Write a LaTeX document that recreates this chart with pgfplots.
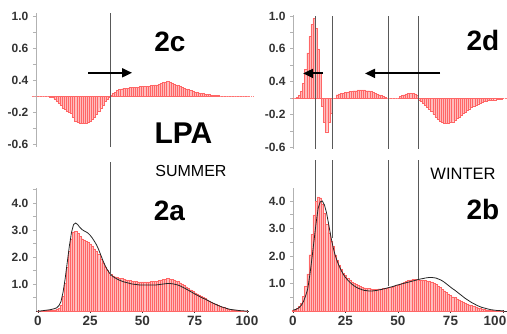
\documentclass[border=0pt]{standalone}
\usepackage{pgfplots}
\pgfplotsset{compat=1.18}
\usepackage{pgfplotstable}
\usepackage{fontspec}
\setmainfont{Liberation Sans}
\usetikzlibrary{arrows.meta}

\pgfplotstableread{
x c h d
0 0 0 0
1 0 0 0
2 0.01 0.01 0
3 0.02 0.02 0
4 0.03 0.03 0
5 0.04 0.04 0
6 0.05 0.04 -0.01
7 0.07 0.05 -0.02
8 0.09 0.05 -0.04
9 0.12 0.06 -0.06
10 0.20 0.11 -0.09
11 0.35 0.23 -0.12
12 0.70 0.55 -0.15
13 1.20 1.03 -0.17
14 1.80 1.61 -0.19
15 2.40 2.20 -0.20
16 2.90 2.68 -0.22
17 3.20 2.93 -0.27
18 3.26 2.95 -0.31
19 3.20 2.87 -0.33
20 3.10 2.76 -0.34
21 3.02 2.68 -0.34
22 2.97 2.63 -0.34
23 2.93 2.59 -0.34
24 2.88 2.55 -0.33
25 2.80 2.49 -0.31
26 2.70 2.41 -0.29
27 2.58 2.31 -0.27
28 2.45 2.22 -0.23
29 2.28 2.09 -0.19
30 2.08 1.93 -0.15
31 1.88 1.77 -0.11
32 1.70 1.63 -0.07
33 1.55 1.51 -0.04
34 1.43 1.41 -0.02
35 1.34 1.35 0.01
36 1.27 1.30 0.03
37 1.22 1.27 0.05
38 1.18 1.25 0.07
39 1.14 1.22 0.08
40 1.11 1.20 0.09
41 1.08 1.18 0.10
42 1.06 1.16 0.10
43 1.04 1.14 0.10
44 1.02 1.13 0.11
45 1.00 1.11 0.11
46 0.99 1.10 0.11
47 0.98 1.09 0.11
48 0.97 1.08 0.11
49 0.96 1.08 0.12
50 0.96 1.08 0.12
51 0.96 1.08 0.12
52 0.96 1.08 0.12
53 0.96 1.08 0.12
54 0.96 1.09 0.13
55 0.96 1.09 0.13
56 0.96 1.10 0.14
57 0.97 1.11 0.14
58 0.98 1.13 0.15
59 0.99 1.15 0.16
60 1.00 1.17 0.17
61 1.01 1.18 0.17
62 1.02 1.20 0.18
63 1.02 1.19 0.17
64 1.01 1.17 0.16
65 1.00 1.15 0.15
66 0.98 1.12 0.14
67 0.96 1.09 0.13
68 0.93 1.05 0.12
69 0.89 1.00 0.11
70 0.85 0.95 0.10
71 0.81 0.90 0.09
72 0.77 0.85 0.08
73 0.72 0.79 0.07
74 0.68 0.74 0.06
75 0.63 0.68 0.05
76 0.59 0.64 0.05
77 0.55 0.59 0.04
78 0.51 0.54 0.03
79 0.47 0.50 0.03
80 0.44 0.46 0.02
81 0.40 0.42 0.02
82 0.36 0.38 0.02
83 0.32 0.33 0.01
84 0.28 0.29 0.01
85 0.25 0.26 0.01
86 0.21 0.22 0.01
87 0.18 0.18 0
88 0.15 0.15 0
89 0.13 0.13 0
90 0.10 0.10 0
91 0.08 0.08 0
92 0.06 0.06 0
93 0.05 0.05 0
94 0.04 0.04 0
95 0.03 0.03 0
96 0.02 0.02 0
97 0.01 0.01 0
98 0.01 0.01 0
99 0 0 0
100 0 0 0
}\summer

\pgfplotstableread{
x c h d
0 0.03 0.03 0
1 0.05 0.05 0
2 0.08 0.09 0.01
3 0.13 0.16 0.03
4 0.21 0.29 0.08
5 0.35 0.53 0.18
6 0.55 0.90 0.35
7 0.80 1.35 0.55
8 1.30 2.05 0.75
9 1.90 2.80 0.90
10 2.55 3.50 0.97
11 3.20 4.00 0.85
12 3.75 4.15 0.60
13 3.97 4.12 0.30
14 4.00 3.90 -0.10
15 3.85 3.55 -0.30
16 3.56 3.15 -0.41
17 3.15 2.85 -0.30
18 2.72 2.54 -0.18
19 2.35 2.35 0
20 2.05 2.05 0
21 1.82 1.86 0.04
22 1.63 1.68 0.05
23 1.47 1.53 0.06
24 1.33 1.39 0.06
25 1.22 1.29 0.07
26 1.13 1.20 0.07
27 1.05 1.13 0.08
28 0.98 1.06 0.08
29 0.92 1.01 0.09
30 0.87 0.96 0.09
31 0.83 0.93 0.10
32 0.80 0.90 0.10
33 0.77 0.87 0.10
34 0.75 0.85 0.10
35 0.74 0.83 0.09
36 0.73 0.82 0.09
37 0.73 0.81 0.08
38 0.73 0.80 0.07
39 0.74 0.80 0.06
40 0.75 0.80 0.05
41 0.77 0.81 0.04
42 0.78 0.81 0.03
43 0.80 0.82 0.02
44 0.82 0.83 0.01
45 0.84 0.84 0
46 0.86 0.86 0
47 0.88 0.88 0
48 0.90 0.90 0
49 0.93 0.93 0
50 0.95 0.95 0
51 0.97 0.99 0.02
52 0.99 1.02 0.03
53 1.01 1.05 0.04
54 1.03 1.08 0.05
55 1.05 1.11 0.06
56 1.07 1.13 0.06
57 1.09 1.15 0.06
58 1.11 1.16 0.05
59 1.13 1.16 0.03
60 1.15 1.13 -0.02
61 1.17 1.13 -0.04
62 1.18 1.12 -0.06
63 1.20 1.11 -0.09
64 1.21 1.10 -0.11
65 1.22 1.09 -0.13
66 1.22 1.06 -0.16
67 1.21 1.01 -0.20
68 1.20 0.97 -0.23
69 1.17 0.91 -0.26
70 1.14 0.86 -0.28
71 1.10 0.80 -0.30
72 1.05 0.74 -0.31
73 0.99 0.68 -0.31
74 0.93 0.62 -0.31
75 0.87 0.57 -0.30
76 0.81 0.52 -0.29
77 0.76 0.49 -0.27
78 0.70 0.45 -0.25
79 0.64 0.41 -0.23
80 0.58 0.37 -0.21
81 0.52 0.33 -0.19
82 0.46 0.29 -0.17
83 0.41 0.26 -0.15
84 0.36 0.23 -0.13
85 0.31 0.20 -0.11
86 0.27 0.17 -0.10
87 0.23 0.14 -0.09
88 0.19 0.12 -0.07
89 0.16 0.10 -0.06
90 0.13 0.08 -0.05
91 0.11 0.07 -0.04
92 0.09 0.05 -0.04
93 0.07 0.04 -0.03
94 0.05 0.02 -0.03
95 0.04 0.02 -0.02
96 0.03 0.01 -0.02
97 0.02 0.01 -0.01
98 0.02 0.01 -0.01
99 0.01 0 -0.01
100 0.01 0 0
}\winter

\pgfplotsset{
  panel/.style={
    clip=false,
    anchor=origin,
    axis y line=left,
    y axis line style={-, black!30, line width=0.6pt},
    ytick style={black!30, line width=0.6pt},
    tick align=outside,
    major tick length=3pt,
    minor tick length=3pt,
    yticklabel style={font=\bfseries\fontsize{12}{12}\selectfont, text=black!80, xshift=-1pt},
  },
  toppanel/.style={
    panel,
    axis x line=none,
    ytick={1.0,0.6,0.2,-0.2,-0.6},
    yticklabels={1.0,0.6,0.4,-0.2,-0.6},
    minor ytick={0.8,0.4,0,-0.4},
  },
  botpanel/.style={
    panel,
    axis x line=bottom,
    x axis line style={-, black!80, line width=0.7pt},
    xtick style={black!80, line width=0.7pt},
    xticklabel style={font=\bfseries\fontsize{13.5}{13.5}\selectfont, text=black!80},
    ymin=0,
    ytick={1,2,3,4},
    yticklabels={1.0,2.0,3.0,4.0},
    minor ytick={0.5,1.5,2.5,3.5,4.5},
  },
  bars/.style={ybar, bar width=1, bar shift=0pt, fill=red!26, draw=red!60, line width=0.22pt},
  curve/.style={black!85, line width=0.8pt},
  vline/.style={black!65, line width=0.7pt},
  arr/.style={black, line width=1.8pt, -{Triangle[length=10pt,width=9pt]}},
}

\begin{document}
\begin{tikzpicture}
\path[use as bounding box] (0,0) rectangle (507pt,333pt);

% 2c top-left
\begin{axis}[toppanel, at={(38pt,237pt)}, x=2.09pt, y=80pt,
  xmin=-1, xmax=101, ymin=-0.64, ymax=1.04]
\addplot[red!50, densely dotted, line width=0.6pt] coordinates {(-3,0) (103,0)};
\addplot[bars] table[x=x, y=d] {\summer};
\addplot[vline] coordinates {(34.5,-0.64) (34.5,1.04)};
\addplot[arr] coordinates {(24,0.29) (45,0.29)};
\end{axis}

% 2a bottom-left
\begin{axis}[botpanel, at={(38pt,22pt)}, x=2.09pt, y=27pt,
  xmin=-1, xmax=101, ymax=4.55,
  xtick={0,25,50,75,100}, xticklabels={0,25,50,75,100}]
\addplot[bars] table[x=x, y=h] {\summer};
\addplot[curve] table[x=x, y=c] {\summer};
\addplot[vline] coordinates {(34.5,1.3) (34.5,5.5)};
\end{axis}

% 2d top-right
\begin{axis}[toppanel, at={(293pt,235pt)}, x=2.1pt, y=82pt,
  xmin=0, xmax=102, ymin=-0.62, ymax=1.01]
\addplot[red!50, densely dotted, line width=0.6pt] coordinates {(1,0) (102,0)};
\addplot[bars] table[x=x, y=d] {\winter};
\addplot[vline] coordinates {(10.5,-0.62) (10.5,1.0)};
\addplot[vline] coordinates {(18.6,-0.62) (18.6,1.0)};
\addplot[vline] coordinates {(45.2,-0.62) (45.2,1.0)};
\addplot[vline] coordinates {(59.5,-0.62) (59.5,1.0)};
\addplot[arr] coordinates {(14.3,0.30) (4.8,0.30)};
\addplot[arr] coordinates {(70,0.30) (34.3,0.30)};
\end{axis}

% 2b bottom-right
\begin{axis}[botpanel, at={(293pt,22pt)}, x=2.1pt, y=27.5pt,
  xmin=0, xmax=102, ymax=4.47,
  xtick={0,25,50,75}, xticklabels={0,25,50,75},
  extra x ticks={100}, extra x tick labels={100},
  extra x tick style={xticklabel style={xshift=-8pt}}]
\addplot[bars] table[x=x, y=h] {\winter};
\addplot[curve] table[x=x, y=c] {\winter};
\addplot[vline] coordinates {(10.5,4.0) (10.5,5.5)};
\addplot[vline] coordinates {(18.6,2.65) (18.6,5.5)};
\addplot[vline] coordinates {(45.2,0.9) (45.2,5.5)};
\addplot[vline] coordinates {(59.5,1.18) (59.5,5.5)};
\end{axis}

\node[font=\bfseries\fontsize{28}{28}\selectfont] at (170pt,291pt) {2c};
\node[font=\bfseries\fontsize{28}{28}\selectfont] at (483pt,293pt) {2d};
\node[font=\bfseries\fontsize{30}{30}\selectfont] at (183.5pt,200pt) {LPA};
\node[font=\fontsize{16}{16}\selectfont] at (191pt,162pt) {SUMMER};
\node[font=\fontsize{16.5}{16.5}\selectfont] at (463pt,159pt) {WINTER};
\node[font=\bfseries\fontsize{28}{28}\selectfont] at (169.5pt,122pt) {2a};
\node[font=\bfseries\fontsize{28}{28}\selectfont] at (483pt,124pt) {2b};
\end{tikzpicture}
\end{document}
